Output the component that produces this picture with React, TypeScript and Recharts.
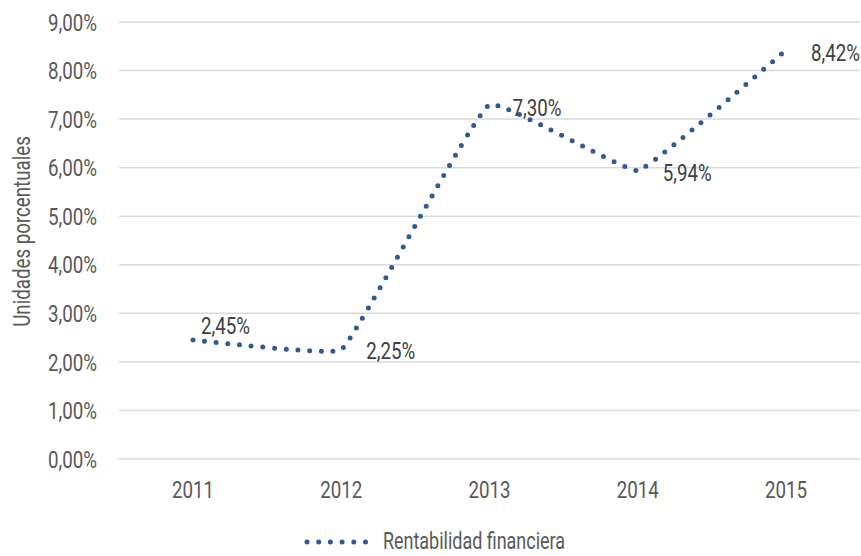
import React from 'react';
import { LineChart, Line, XAxis, YAxis, CartesianGrid, LabelList, Legend } from 'recharts';

const years = ['2011', '2012', '2013', '2014', '2015'];
const rentabilidad = [2.45, 2.25, 7.3, 5.94, 8.42];
const yTicks = [0, 1, 2, 3, 4, 5, 6, 7, 8, 9];

// label placement relative to each point (dx, dy)
const labelOffsets = [
  [8, -15],
  [25, 1],
  [23, 3],
  [25, 2],
  [25, 2],
];

const data = years.map((year, i) => ({ year, value: rentabilidad[i] }));

const FONT = 'Roboto, "Noto Sans", sans-serif';
const FONT_SIZE = 24;
const SX = 0.78; // horizontal squeeze to get a condensed face
const BLUE = '#2f5a96';
const TICK = '#595959';

const pct = (v: number) => `${v.toFixed(2).replace('.', ',')}%`;

// condensed text: scaled along its own baseline
function NarrowText({ x, y, angle = 0, anchor = 'start', dy = '0', fill = TICK, children }: any) {
  return (
    <text
      transform={`translate(${x},${y}) rotate(${angle}) scale(${SX},1)`}
      textAnchor={anchor}
      dy={dy}
      fill={fill}
      fontSize={FONT_SIZE}
      fontFamily={FONT}
    >
      {children}
    </text>
  );
}

// Smoothed line: bezier arms follow the neighbour direction,
// scaled by the segment length so the corners stay tight.
const SMOOTH = 0.07;
const smoothCurve = (context: any) => {
  let pts: [number, number][] = [];
  const tangent = (i: number) => {
    const a = pts[Math.max(i - 1, 0)];
    const b = pts[Math.min(i + 1, pts.length - 1)];
    const dx = b[0] - a[0];
    const dy = b[1] - a[1];
    const len = Math.hypot(dx, dy) || 1;
    return [dx / len, dy / len];
  };
  return {
    areaStart() {},
    areaEnd() {},
    lineStart() {
      pts = [];
    },
    point(x: number, y: number) {
      pts.push([+x, +y]);
    },
    lineEnd() {
      if (!pts.length) return;
      context.moveTo(pts[0][0], pts[0][1]);
      for (let i = 0; i < pts.length - 1; i++) {
        const p1 = pts[i];
        const p2 = pts[i + 1];
        const d = Math.hypot(p2[0] - p1[0], p2[1] - p1[1]) * SMOOTH;
        const t1 = tangent(i);
        const t2 = tangent(i + 1);
        context.bezierCurveTo(
          p1[0] + t1[0] * d,
          p1[1] + t1[1] * d,
          p2[0] - t2[0] * d,
          p2[1] - t2[1] * d,
          p2[0],
          p2[1]
        );
      }
    },
  };
};

const renderValueLabel = (props: any) => {
  const { x, y, value, index } = props;
  const [dx, dy] = labelOffsets[index];
  return (
    <NarrowText x={x + dx} y={y + dy} dy="0.36em" fill="#404040">
      {pct(value)}
    </NarrowText>
  );
};

const renderYTick = (props: any) => (
  <NarrowText x={props.x} y={props.y} anchor="end" dy="0.36em">
    {pct(props.payload.value)}
  </NarrowText>
);

const renderXTick = (props: any) => (
  <NarrowText x={props.x} y={props.y} anchor="middle" dy="0.71em">
    {props.payload.value}
  </NarrowText>
);

const renderAxisTitle = (props: any) => {
  const vb = props.viewBox;
  return (
    <NarrowText x={vb.x + 30} y={vb.y + vb.height / 2 - 9} angle={-90} anchor="middle">
      Unidades porcentuales
    </NarrowText>
  );
};

const renderLegend = () => (
  <div style={{ height: 47, display: 'flex', justifyContent: 'center', paddingLeft: 28 }}>
    <svg width={280} height={47} style={{ overflow: 'visible' }}>
      <line
        x1={3}
        y1={33}
        x2={62}
        y2={33}
        stroke={BLUE}
        strokeWidth={5}
        strokeLinecap="round"
        strokeDasharray="0 11.7"
      />
      <text
        x={79}
        y={40}
        fill={TICK}
        fontSize={FONT_SIZE}
        fontFamily={FONT}
        textLength={182}
        lengthAdjust="spacingAndGlyphs"
      >
        Rentabilidad financiera
      </text>
    </svg>
  </div>
);

export default function App() {
  return (
    <div style={{ position: 'absolute', left: 0, top: 0, background: '#fff' }}>
      <LineChart width={861} height={556} data={data} margin={{ top: 22, right: 1, left: 0, bottom: 0 }}>
        <CartesianGrid vertical={false} stroke="#d9d9d9" strokeWidth={1.5} />
        <XAxis
          dataKey="year"
          axisLine={false}
          tickLine={false}
          tickSize={0}
          tickMargin={22}
          height={50}
          padding={{ left: 74, right: 74 }}
          tick={renderXTick}
        />
        <YAxis
          type="number"
          domain={[0, 9]}
          ticks={yTicks}
          width={119}
          axisLine={false}
          tickLine={false}
          tickSize={0}
          tickMargin={22}
          tick={renderYTick}
          label={renderAxisTitle}
        />
        <Legend verticalAlign="bottom" content={renderLegend} />
        <Line
          dataKey="value"
          type={smoothCurve as any}
          stroke={BLUE}
          strokeWidth={5}
          strokeLinecap="round"
          strokeDasharray="0 11.7"
          dot={false}
          activeDot={false}
          isAnimationActive={false}
        >
          <LabelList dataKey="value" content={renderValueLabel} />
        </Line>
      </LineChart>
    </div>
  );
}
